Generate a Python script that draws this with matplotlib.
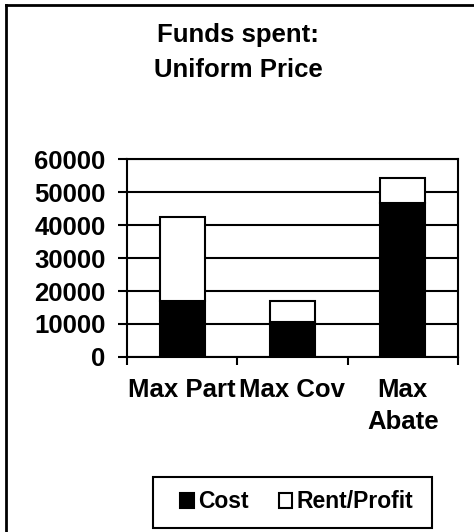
import numpy as np
import matplotlib.pyplot as plt
from matplotlib.lines import Line2D
from matplotlib.patches import Rectangle

plt.rcParams['font.family'] = ['Liberation Sans', 'DejaVu Sans']
plt.rcParams['font.weight'] = 'bold'

categories = ['Max Part', 'Max Cov', 'Max\nAbate']
cost = [16900, 10700, 46700]
rent = [25500, 6300, 7600]   # rent/profit on top of cost
yticks = [0, 10000, 20000, 30000, 40000, 50000, 60000]

fs = 18.5
W, H = 474, 532
fig = plt.figure(figsize=(4.74, 5.32), dpi=100)
ax = fig.add_axes([0.268, 0.329, 0.698, 0.372])

x = np.arange(len(categories))
bw = 0.41
b1 = ax.bar(x, cost, width=bw, color='black', edgecolor='black', lw=1.5, label='Cost', zorder=3)
b2 = ax.bar(x, rent, bottom=cost, width=bw, color='white', edgecolor='black', lw=1.5,
            label='Rent/Profit', zorder=3)

ax.set_xlim(-0.5, 2.5)
ax.set_ylim(0, 60000)
ax.set_yticks(yticks)
ax.set_yticklabels([str(v) for v in yticks], fontsize=fs, fontweight='bold')
ax.grid(axis='y', color='black', lw=1.5, zorder=0)

# category labels between boundary ticks
ax.set_xticks([-0.5, 0.5, 1.5, 2.5])
ax.set_xticklabels([])
ax.set_xticks(x, minor=True)
ax.set_xticklabels(categories, minor=True, fontsize=fs, fontweight='bold', linespacing=1.45)
ax.tick_params(axis='x', which='minor', length=0, pad=15)
ax.tick_params(axis='x', which='major', length=6, width=1.5, direction='out')
ax.tick_params(axis='y', length=6.5, width=1.5, direction='out', pad=9)
for s in ax.spines.values():
    s.set_linewidth(1.5)

fig.text(0.502, 1 - 35 / H, 'Funds spent:', ha='center', va='center', fontsize=fs, fontweight='bold')
fig.text(0.502, 1 - 70 / H, 'Uniform Price', ha='center', va='center', fontsize=fs, fontweight='bold')

# legend box drawn separately, entries centred inside
fig.add_artist(Rectangle((153 / W, 1 - 528 / H), 279 / W, 51 / H, transform=fig.transFigure,
                         fill=False, edgecolor='black', lw=1.5))
leg = fig.legend(handles=[b1, b2], loc='center', bbox_to_anchor=(0.626, 1 - 502 / H), ncol=2,
                 fontsize=16.5, frameon=False,
                 handlelength=0.6, handleheight=0.6, handletextpad=0.2, columnspacing=1.3)
for t in leg.get_texts():
    t.set_fontweight('bold')

# outer frame (left and top edges)
fig.add_artist(Line2D([6 / W, 6 / W], [0, 1 - 5 / H], color='black', lw=2))
fig.add_artist(Line2D([6 / W, 1], [1 - 5 / H, 1 - 5 / H], color='black', lw=2))

fig.savefig('out.png', dpi=100)
